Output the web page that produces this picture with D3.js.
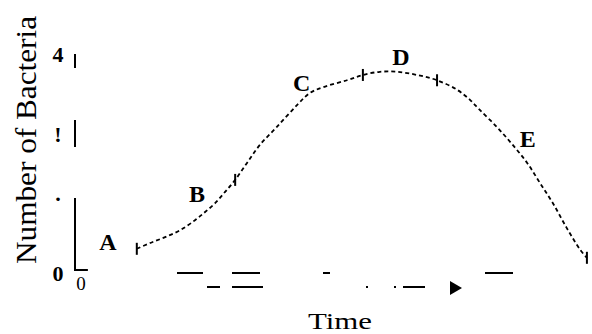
<!DOCTYPE html>
<html>
<head>
<meta charset="utf-8">
<script src="https://cdn.jsdelivr.net/npm/d3@7"></script>
<style>
  body { margin: 0; background: #fff; }
  text { font-family: "Liberation Serif", "DejaVu Serif", serif; fill: #000; }
</style>
</head>
<body>
<svg width="592" height="334"></svg>
<script>
let svg = d3.select("svg");
let width = +svg.attr("width");
let height = +svg.attr("height");

// growth curve (time, number of bacteria)
const times = [1.2, 1.46, 1.75, 2.04, 2.33, 2.52, 2.72, 2.91, 3.11, 3.34, 3.59, 3.92, 4.31, 4.56, 4.82,
               5.28, 5.59, 5.92, 6.25, 6.64, 7.03, 7.42, 7.67, 7.86, 8.19, 8.5, 8.78, 9.03, 9.28, 9.55, 9.81, 9.94];
const counts = [0.4, 0.51, 0.62, 0.75, 0.94, 1.09, 1.26, 1.47, 1.7, 2.02, 2.36, 2.7, 3.11, 3.34, 3.45,
                3.58, 3.68, 3.74, 3.74, 3.68, 3.58, 3.4, 3.21, 3.02, 2.7, 2.36, 2.02, 1.64, 1.26, 0.79, 0.38, 0.23];

// phase boundaries marked on the curve
const markTimes = [1.2, 3.11, 5.59, 7.03, 9.94];

// phase letters
const phases = ["A", "B", "C", "D", "E"];
const phaseT = [0.64, 2.37, 4.4, 6.33, 8.79];
const phaseN = [0.38, 1.28, 3.38, 3.87, 2.32];

// y tick labels as they appear
const yTicks = [-0.05, 1.45, 2.57, 4.07];
const yLabels = ["0", ".", "!", "4"];

let x = d3.scaleLinear().domain([0, 10]).range([75, 590]);
let y = d3.scaleLinear().domain([0, 4]).range([270, 58]);

let pts = times.map((t, i) => [t, counts[i]]);

// y axis, broken like in the scan
svg.append("path")
  .attr("d", `M${x(0.25)},${y(0)}L${x(0)},${y(0)}L${x(0)},${y(4.08)}`)
  .attr("fill", "none")
  .attr("stroke", "#000")
  .attr("stroke-width", 2)
  .attr("stroke-dasharray", "85,51,27,52,14");

svg.append("g").selectAll("text")
  .data(yTicks)
  .enter().append("text")
  .attr("x", 58)
  .attr("y", d => y(d) + 8)
  .attr("text-anchor", "middle")
  .style("font-size", "22px")
  .style("font-weight", "bold")
  .text((d, i) => yLabels[i]);

svg.append("text")
  .attr("x", x(0) + 6)
  .attr("y", 290)
  .attr("text-anchor", "middle")
  .style("font-size", "19px")
  .text("0");

// time axis fragments
svg.append("line")
  .attr("x1", 177).attr("x2", 513)
  .attr("y1", y(0) + 3).attr("y2", y(0) + 3)
  .attr("stroke", "#000").attr("stroke-width", 2)
  .attr("stroke-dasharray", "26,29,28,63,7,155,28");

svg.append("line")
  .attr("x1", 207).attr("x2", 450)
  .attr("y1", y(0) + 17).attr("y2", y(0) + 17)
  .attr("stroke", "#000").attr("stroke-width", 2)
  .attr("stroke-dasharray", "13,12,31,103,2,26,2,7,22,100");

svg.append("path")
  .attr("d", "M450,281L450,295L462,288Z")
  .attr("fill", "#000");

// curve
let line = d3.line()
  .x(d => x(d[0]))
  .y(d => y(d[1]))
  .curve(d3.curveCatmullRom);

svg.append("path")
  .datum(pts)
  .attr("d", line)
  .attr("fill", "none")
  .attr("stroke", "#000")
  .attr("stroke-width", 1.8)
  .attr("stroke-dasharray", "4,3");

// phase marks
let interp = t => {
  let i = d3.bisectLeft(times, t);
  if (i <= 0) return counts[0];
  if (i >= times.length) return counts[counts.length - 1];
  let f = (t - times[i - 1]) / (times[i] - times[i - 1]);
  return counts[i - 1] + f * (counts[i] - counts[i - 1]);
};

svg.append("g").selectAll("line")
  .data(markTimes)
  .enter().append("line")
  .attr("x1", d => x(d)).attr("x2", d => x(d))
  .attr("y1", d => y(interp(d)) - 6)
  .attr("y2", d => y(interp(d)) + 6)
  .attr("stroke", "#000")
  .attr("stroke-width", 2);

svg.append("g").selectAll("text")
  .data(phases)
  .enter().append("text")
  .attr("x", (d, i) => x(phaseT[i]))
  .attr("y", (d, i) => y(phaseN[i]))
  .attr("text-anchor", "middle")
  .style("font-size", "24px")
  .style("font-weight", "bold")
  .text(d => d);

// axis titles
svg.append("text")
  .attr("transform", "translate(36,140) rotate(-90)")
  .attr("text-anchor", "middle")
  .attr("textLength", 248)
  .attr("lengthAdjust", "spacingAndGlyphs")
  .style("font-size", "29px")
  .text("Number of Bacteria");

svg.append("text")
  .attr("x", 340)
  .attr("y", 329)
  .attr("text-anchor", "middle")
  .attr("textLength", 64)
  .attr("lengthAdjust", "spacingAndGlyphs")
  .style("font-size", "23px")
  .text("Time");
</script>
</body>
</html>
